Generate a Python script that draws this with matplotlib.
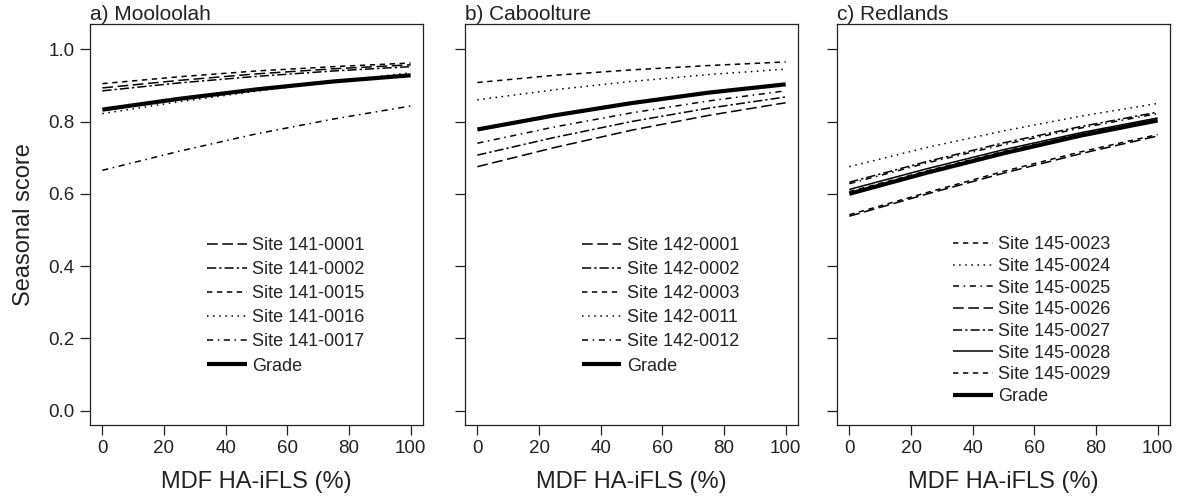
import numpy as np
import matplotlib
matplotlib.use("Agg")
import matplotlib.pyplot as plt

plt.rcParams['font.family'] = ['Liberation Sans', 'DejaVu Sans']

# x values (MDF HA-iFLS %) where curves were read
mdf = [0, 25, 50, 75, 100]

# panel a) Mooloolah
sites_a = ["Site 141-0001", "Site 141-0002", "Site 141-0015", "Site 141-0016", "Site 141-0017", "Grade"]
vals_a = [
    [0.893, 0.914, 0.932, 0.946, 0.957],
    [0.885, 0.907, 0.925, 0.940, 0.952],
    [0.905, 0.924, 0.940, 0.952, 0.962],
    [0.822, 0.855, 0.884, 0.911, 0.935],
    [0.665, 0.718, 0.766, 0.807, 0.843],
    [0.833, 0.863, 0.889, 0.911, 0.928],
]

# panel b) Caboolture
sites_b = ["Site 142-0001", "Site 142-0002", "Site 142-0003", "Site 142-0011", "Site 142-0012", "Grade"]
vals_b = [
    [0.675, 0.728, 0.776, 0.817, 0.852],
    [0.707, 0.756, 0.800, 0.837, 0.868],
    [0.908, 0.928, 0.943, 0.955, 0.965],
    [0.860, 0.888, 0.911, 0.930, 0.945],
    [0.740, 0.785, 0.824, 0.857, 0.885],
    [0.778, 0.817, 0.851, 0.880, 0.903],
]

# panel c) Redlands
sites_c = ["Site 145-0023", "Site 145-0024", "Site 145-0025", "Site 145-0026",
           "Site 145-0027", "Site 145-0028", "Site 145-0029", "Grade"]
vals_c = [
    [0.542, 0.603, 0.662, 0.716, 0.764],
    [0.675, 0.728, 0.774, 0.815, 0.850],
    [0.628, 0.685, 0.736, 0.782, 0.822],
    [0.538, 0.599, 0.657, 0.711, 0.760],
    [0.632, 0.689, 0.741, 0.786, 0.826],
    [0.612, 0.669, 0.722, 0.769, 0.810],
    [0.606, 0.663, 0.717, 0.765, 0.806],
    [0.600, 0.658, 0.712, 0.761, 0.803],
]

titles = ["a) Mooloolah", "b) Caboolture", "c) Redlands"]

# line styles per panel (same order as the site lists)
long_dash = (0, (7, 3))
dash_dot = (0, (6, 2, 1.5, 2))
short_dash = (0, (3.5, 3))
dotted = (0, (1, 3))
sparse_dd = (0, (4, 3, 1, 3))
styles_a = [long_dash, dash_dot, short_dash, dotted, sparse_dd, "-"]
styles_b = [long_dash, dash_dot, short_dash, dotted, sparse_dd, "-"]
styles_c = [short_dash, dotted, sparse_dd, long_dash, dash_dot, "-", short_dash, "-"]

fig = plt.figure(figsize=(11.8, 4.98), dpi=100)
lefts = [90/1180, 465/1180, 837/1180]
w = 333/1180
bottom = (498-425)/498
h = 401/498

panels = [(sites_a, vals_a, styles_a), (sites_b, vals_b, styles_b), (sites_c, vals_c, styles_c)]
leg_x = [0.351, 0.35, 0.348]
leg_y = [0.468, 0.468, 0.471]
spacing = [0.39, 0.39, 0.26]

for i, (sites, vals, styles) in enumerate(panels):
    ax = fig.add_axes([lefts[i], bottom, w, h])
    for name, v, ls in zip(sites, vals, styles):
        lw = 3.0 if name == "Grade" else 1.1
        ax.plot(mdf, v, color="black", linestyle=ls, linewidth=lw, label=name,
                solid_capstyle="butt", dash_capstyle="butt")
    ax.set_xlim(-4, 104)
    ax.set_ylim(-0.04, 1.07)
    ax.set_xticks([0, 20, 40, 60, 80, 100])
    ax.set_yticks([0.0, 0.2, 0.4, 0.6, 0.8, 1.0])
    ax.tick_params(direction="out", length=7, width=0.9, labelsize=13.5, color="#222222",
                   labelcolor="#222222", pad=4)
    if i == 0:
        ax.set_yticklabels(["0.0", "0.2", "0.4", "0.6", "0.8", "1.0"])
        ax.set_ylabel("Seasonal score", fontsize=17, color="#222222", labelpad=10)
    else:
        ax.set_yticklabels([])
    for s in ax.spines.values():
        s.set_linewidth(0.9)
        s.set_color("#222222")
    ax.set_xlabel("MDF HA-iFLS (%)", fontsize=17, color="#222222", labelpad=10)
    ax.set_title(titles[i], loc="left", fontsize=15, color="#222222", pad=3)
    leg = ax.legend(loc="upper left", bbox_to_anchor=(leg_x[i], leg_y[i]), frameon=False,
                    fontsize=13, handlelength=2.2, handletextpad=0.3,
                    labelspacing=spacing[i], borderaxespad=0, borderpad=0)
    for t in leg.get_texts():
        t.set_color("#222222")

fig.savefig("out.png", dpi=100)
